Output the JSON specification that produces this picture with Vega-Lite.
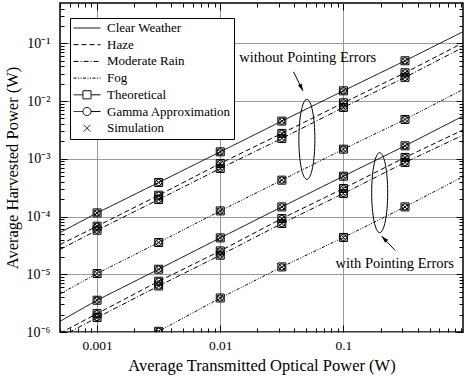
{
  "$schema": "https://vega.github.io/schema/vega-lite/v6.json",
  "width": 403,
  "height": 329,
  "autosize": "none",
  "padding": {"left": 60, "top": 3, "right": 1, "bottom": 55},
  "background": "white",
  "config": {
    "font": "Liberation Serif",
    "view": {"stroke": "black", "strokeWidth": 1.5},
    "axis": {
      "labelFont": "Liberation Serif", "labelFontSize": 13.5, "labelColor": "black",
      "titleFont": "Liberation Serif", "titleFontSize": 16.5, "titleFontWeight": "normal", "titleColor": "black",
      "tickColor": "black", "tickWidth": 1, "domain": false, "gridColor": "#9a9a9a", "gridWidth": 1, "gridOpacity": 1
    }
  },
  "datasets": {
    "curves": [
      {"p": 0.0005, "v": 5.28e-5, "w": "Clear Weather", "pe": "without"},
      {"p": 0.001, "v": 1.156e-4, "w": "Clear Weather", "pe": "without"},
      {"p": 0.003162, "v": 3.89e-4, "w": "Clear Weather", "pe": "without"},
      {"p": 0.01, "v": 1.321e-3, "w": "Clear Weather", "pe": "without"},
      {"p": 0.03162, "v": 4.50e-3, "w": "Clear Weather", "pe": "without"},
      {"p": 0.1, "v": 1.507e-2, "w": "Clear Weather", "pe": "without"},
      {"p": 0.3162, "v": 4.99e-2, "w": "Clear Weather", "pe": "without"},
      {"p": 0.935, "v": 0.159, "w": "Clear Weather", "pe": "without"},
      {"p": 0.0005, "v": 3.27e-5, "w": "Haze", "pe": "without"},
      {"p": 0.001, "v": 6.81e-5, "w": "Haze", "pe": "without"},
      {"p": 0.003162, "v": 2.34e-4, "w": "Haze", "pe": "without"},
      {"p": 0.01, "v": 8.32e-4, "w": "Haze", "pe": "without"},
      {"p": 0.03162, "v": 2.754e-3, "w": "Haze", "pe": "without"},
      {"p": 0.1, "v": 9.33e-3, "w": "Haze", "pe": "without"},
      {"p": 0.3162, "v": 3.09e-2, "w": "Haze", "pe": "without"},
      {"p": 0.935, "v": 0.102, "w": "Haze", "pe": "without"},
      {"p": 0.0005, "v": 2.69e-5, "w": "Moderate Rain", "pe": "without"},
      {"p": 0.001, "v": 5.79e-5, "w": "Moderate Rain", "pe": "without"},
      {"p": 0.003162, "v": 1.972e-4, "w": "Moderate Rain", "pe": "without"},
      {"p": 0.01, "v": 6.81e-4, "w": "Moderate Rain", "pe": "without"},
      {"p": 0.03162, "v": 2.254e-3, "w": "Moderate Rain", "pe": "without"},
      {"p": 0.1, "v": 7.76e-3, "w": "Moderate Rain", "pe": "without"},
      {"p": 0.3162, "v": 2.576e-2, "w": "Moderate Rain", "pe": "without"},
      {"p": 0.935, "v": 0.0851, "w": "Moderate Rain", "pe": "without"},
      {"p": 0.0005, "v": 4.57e-6, "w": "Fog", "pe": "without"},
      {"p": 0.001, "v": 1.03e-5, "w": "Fog", "pe": "without"},
      {"p": 0.003162, "v": 3.55e-5, "w": "Fog", "pe": "without"},
      {"p": 0.01, "v": 1.253e-4, "w": "Fog", "pe": "without"},
      {"p": 0.03162, "v": 4.27e-4, "w": "Fog", "pe": "without"},
      {"p": 0.1, "v": 1.469e-3, "w": "Fog", "pe": "without"},
      {"p": 0.3162, "v": 4.81e-3, "w": "Fog", "pe": "without"},
      {"p": 0.935, "v": 1.585e-2, "w": "Fog", "pe": "without"},
      {"p": 0.0005, "v": 1.535e-6, "w": "Clear Weather", "pe": "with"},
      {"p": 0.001, "v": 3.55e-6, "w": "Clear Weather", "pe": "with"},
      {"p": 0.003162, "v": 1.222e-5, "w": "Clear Weather", "pe": "with"},
      {"p": 0.01, "v": 4.27e-5, "w": "Clear Weather", "pe": "with"},
      {"p": 0.03162, "v": 1.469e-4, "w": "Clear Weather", "pe": "with"},
      {"p": 0.1, "v": 5.00e-4, "w": "Clear Weather", "pe": "with"},
      {"p": 0.3162, "v": 1.679e-3, "w": "Clear Weather", "pe": "with"},
      {"p": 0.935, "v": 5.50e-3, "w": "Clear Weather", "pe": "with"},
      {"p": 0.0005, "v": 9.55e-7, "w": "Haze", "pe": "with"},
      {"p": 0.001, "v": 2.08e-6, "w": "Haze", "pe": "with"},
      {"p": 0.003162, "v": 7.57e-6, "w": "Haze", "pe": "with"},
      {"p": 0.01, "v": 2.535e-5, "w": "Haze", "pe": "with"},
      {"p": 0.03162, "v": 9.25e-5, "w": "Haze", "pe": "with"},
      {"p": 0.1, "v": 3.06e-4, "w": "Haze", "pe": "with"},
      {"p": 0.3162, "v": 1.057e-3, "w": "Haze", "pe": "with"},
      {"p": 0.935, "v": 3.16e-3, "w": "Haze", "pe": "with"},
      {"p": 0.0005, "v": 8.13e-7, "w": "Moderate Rain", "pe": "with"},
      {"p": 0.001, "v": 1.778e-6, "w": "Moderate Rain", "pe": "with"},
      {"p": 0.003162, "v": 6.27e-6, "w": "Moderate Rain", "pe": "with"},
      {"p": 0.01, "v": 2.138e-5, "w": "Moderate Rain", "pe": "with"},
      {"p": 0.03162, "v": 7.57e-5, "w": "Moderate Rain", "pe": "with"},
      {"p": 0.1, "v": 2.512e-4, "w": "Moderate Rain", "pe": "with"},
      {"p": 0.3162, "v": 8.65e-4, "w": "Moderate Rain", "pe": "with"},
      {"p": 0.935, "v": 2.57e-3, "w": "Moderate Rain", "pe": "with"},
      {"p": 0.0005, "v": 1.35e-7, "w": "Fog", "pe": "with"},
      {"p": 0.001, "v": 2.88e-7, "w": "Fog", "pe": "with"},
      {"p": 0.003162, "v": 1.028e-6, "w": "Fog", "pe": "with"},
      {"p": 0.01, "v": 3.88e-6, "w": "Fog", "pe": "with"},
      {"p": 0.03162, "v": 1.34e-5, "w": "Fog", "pe": "with"},
      {"p": 0.1, "v": 4.34e-5, "w": "Fog", "pe": "with"},
      {"p": 0.3162, "v": 1.469e-4, "w": "Fog", "pe": "with"},
      {"p": 0.935, "v": 4.9e-4, "w": "Fog", "pe": "with"}
    ],
    "labels": [
      {"p": 0.0513, "v": 0.0556, "t": "without Pointing Errors"},
      {"p": 0.261, "v": 1.535e-5, "t": "with Pointing Errors"}
    ],
    "ellipses": [
      {"p": 0.0505, "v": 0.00217},
      {"p": 0.197, "v": 2.59e-4}
    ],
    "arrows": [
      {"p": 0.0393, "v": 0.0322, "a": "upper"},
      {"p": 0.0469, "v": 0.01507, "a": "upper"},
      {"p": 0.2625, "v": 2.6e-5, "a": "lower"},
      {"p": 0.2047, "v": 4.56e-5, "a": "lower"}
    ]
  },
  "resolve": {"axis": {"x": "independent", "y": "independent"}},
  "layer": [
    {
      "data": {"name": "curves"},
      "mark": {"type": "line", "clip": true, "color": "black", "strokeWidth": 1},
      "encoding": {
        "x": {"field": "p", "type": "quantitative", "scale": {"type": "log", "domain": [0.0005, 0.935], "nice": false},
          "axis": {"orient": "bottom", "values": [0.001, 0.01, 0.1], "format": "~g", "title": "Average Transmitted Optical Power (W)", "grid": true, "tickSize": -7, "labelPadding": 13, "titlePadding": 6}},
        "y": {"field": "v", "type": "quantitative", "scale": {"type": "log", "domain": [1e-6, 0.5], "nice": false},
          "axis": {"orient": "left", "values": [1e-6, 1e-5, 1e-4, 1e-3, 1e-2, 1e-1], "labelFontSize": 14,
            "labelExpr": "'10' + ['⁻¹','⁻²','⁻³','⁻⁴','⁻⁵','⁻⁶'][round(-log(datum.value)/LN10)-1]",
            "title": "Average Harvested Power (W)", "grid": true, "tickSize": -7, "labelPadding": 17, "titlePadding": 6}},
        "strokeDash": {"field": "w", "type": "nominal",
          "scale": {"domain": ["Clear Weather", "Haze", "Moderate Rain", "Fog", "Theoretical", "Gamma Approximation", "Simulation"],
            "range": [[1, 0], [5, 3], [5, 2, 1, 2], [3, 1.5, 1, 1.5, 1, 1.5], [1, 0], [1, 0], [1, 0]]},
          "legend": {
            "title": null, "orient": "none", "legendX": 10, "legendY": 15,
            "symbolSize": 729, "symbolStrokeWidth": 1, "symbolStrokeColor": "black", "symbolFillColor": "white", "symbolOpacity": 1,
            "labelFont": "Liberation Serif", "labelFontSize": 13, "labelColor": "black", "labelOffset": 6, "labelLimit": 0,
            "clipHeight": 14, "rowPadding": 2.7, "padding": 3, "strokeColor": "black", "fillColor": "white"
          }},
        "detail": {"field": "pe", "type": "nominal"}
      }
    },
    {
      "data": {"name": "curves"},
      "transform": [{"filter": "datum.p < 0"}],
      "mark": {"type": "point", "filled": false, "color": "black", "strokeWidth": 1, "opacity": 1},
      "encoding": {
        "shape": {"field": "w", "type": "nominal",
          "scale": {"domain": ["Clear Weather", "Haze", "Moderate Rain", "Fog", "Theoretical", "Gamma Approximation", "Simulation"],
            "range": ["stroke", "stroke", "stroke", "stroke", "M-1,0H-0.3M0.3,0H1M-0.3,-0.3H0.3V0.3H-0.3Z", "M-1,0H-0.3M0.3,0H1M-0.3,0A0.3,0.3 0 1,1 0.3,0A0.3,0.3 0 1,1 -0.3,0Z", "M-0.25,-0.25L0.25,0.25M-0.25,0.25L0.25,-0.25"]},
          "legend": {
            "title": null, "orient": "none", "legendX": 10, "legendY": 15,
            "symbolSize": 729, "symbolStrokeWidth": 1, "symbolStrokeColor": "black", "symbolFillColor": "white", "symbolOpacity": 1,
            "labelFont": "Liberation Serif", "labelFontSize": 13, "labelColor": "black", "labelOffset": 6, "labelLimit": 0,
            "clipHeight": 14, "rowPadding": 2.7, "padding": 3, "strokeColor": "black", "fillColor": "white"
          }}
      }
    },
    {
      "data": {"name": "curves"},
      "transform": [{"filter": "datum.p > 0.0007 && datum.p < 0.5"}],
      "mark": {"type": "point", "clip": true, "filled": false, "color": "black", "strokeWidth": 1, "size": 64, "opacity": 1, "shape": "square"},
      "encoding": {
        "x": {"field": "p", "type": "quantitative",
          "axis": {"orient": "bottom", "values": [0.0005, 0.0006, 0.0007, 0.0008, 0.0009, 0.002, 0.003, 0.004, 0.005, 0.006, 0.007, 0.008, 0.009, 0.02, 0.03, 0.04, 0.05, 0.06, 0.07, 0.08, 0.09, 0.2, 0.3, 0.4, 0.5, 0.6, 0.7, 0.8, 0.9], "labels": false, "grid": false, "tickSize": -4, "title": null}},
        "y": {"field": "v", "type": "quantitative",
          "axis": {"orient": "left", "values": [2e-6, 3e-6, 4e-6, 5e-6, 6e-6, 7e-6, 8e-6, 9e-6, 2e-5, 3e-5, 4e-5, 5e-5, 6e-5, 7e-5, 8e-5, 9e-5, 2e-4, 3e-4, 4e-4, 5e-4, 6e-4, 7e-4, 8e-4, 9e-4, 2e-3, 3e-3, 4e-3, 5e-3, 6e-3, 7e-3, 8e-3, 9e-3, 2e-2, 3e-2, 4e-2, 5e-2, 6e-2, 7e-2, 8e-2, 9e-2, 0.2, 0.3, 0.4], "labels": false, "grid": false, "tickSize": -4, "title": null}}
      }
    },
    {
      "data": {"name": "curves"},
      "transform": [{"filter": "datum.p > 0.0007 && datum.p < 0.5"}],
      "mark": {"type": "point", "clip": true, "filled": false, "color": "black", "strokeWidth": 1, "size": 40, "opacity": 1, "shape": "circle"},
      "encoding": {
        "x": {"field": "p", "type": "quantitative",
          "axis": {"orient": "top", "values": [0.001, 0.01, 0.1], "labels": false, "grid": false, "tickSize": -7, "title": null}},
        "y": {"field": "v", "type": "quantitative",
          "axis": {"orient": "right", "values": [1e-6, 1e-5, 1e-4, 1e-3, 1e-2, 1e-1], "labels": false, "grid": false, "tickSize": -7, "title": null}}
      }
    },
    {
      "data": {"name": "curves"},
      "transform": [{"filter": "datum.p > 0.0007 && datum.p < 0.5"}],
      "mark": {"type": "point", "clip": true, "filled": false, "color": "black", "strokeWidth": 1, "size": 36, "opacity": 1, "shape": "M-1,-1L1,1M-1,1L1,-1"},
      "encoding": {
        "x": {"field": "p", "type": "quantitative",
          "axis": {"orient": "top", "values": [0.0005, 0.0006, 0.0007, 0.0008, 0.0009, 0.002, 0.003, 0.004, 0.005, 0.006, 0.007, 0.008, 0.009, 0.02, 0.03, 0.04, 0.05, 0.06, 0.07, 0.08, 0.09, 0.2, 0.3, 0.4, 0.5, 0.6, 0.7, 0.8, 0.9], "labels": false, "grid": false, "tickSize": -4, "title": null}},
        "y": {"field": "v", "type": "quantitative",
          "axis": {"orient": "right", "values": [2e-6, 3e-6, 4e-6, 5e-6, 6e-6, 7e-6, 8e-6, 9e-6, 2e-5, 3e-5, 4e-5, 5e-5, 6e-5, 7e-5, 8e-5, 9e-5, 2e-4, 3e-4, 4e-4, 5e-4, 6e-4, 7e-4, 8e-4, 9e-4, 2e-3, 3e-3, 4e-3, 5e-3, 6e-3, 7e-3, 8e-3, 9e-3, 2e-2, 3e-2, 4e-2, 5e-2, 6e-2, 7e-2, 8e-2, 9e-2, 0.2, 0.3, 0.4], "labels": false, "grid": false, "tickSize": -4, "title": null}}
      }
    },
    {
      "data": {"name": "labels"},
      "mark": {"type": "text", "font": "Liberation Serif", "fontSize": 14.5, "color": "black", "align": "center", "baseline": "middle"},
      "encoding": {
        "x": {"field": "p", "type": "quantitative", "axis": null},
        "y": {"field": "v", "type": "quantitative", "axis": null},
        "text": {"field": "t"}
      }
    },
    {
      "data": {"name": "ellipses"},
      "mark": {"type": "point", "filled": false, "color": "black", "strokeWidth": 1, "opacity": 1, "size": 6400, "shape": "M0,-1A0.2,1 0 1,1 0,1A0.2,1 0 1,1 0,-1Z"},
      "encoding": {
        "x": {"field": "p", "type": "quantitative", "axis": null},
        "y": {"field": "v", "type": "quantitative", "axis": null}
      }
    },
    {
      "data": {"name": "arrows"},
      "mark": {"type": "line", "color": "black", "strokeWidth": 1},
      "encoding": {
        "x": {"field": "p", "type": "quantitative", "axis": null},
        "y": {"field": "v", "type": "quantitative", "axis": null},
        "detail": {"field": "a", "type": "nominal"}
      }
    },
    {
      "data": {"name": "arrows"},
      "transform": [{"filter": "datum.a === 'upper' && datum.p > 0.045"}],
      "mark": {"type": "point", "filled": true, "color": "black", "opacity": 1, "size": 196, "angle": 154, "shape": "M0,0L-0.3,1L0.3,1Z"},
      "encoding": {
        "x": {"field": "p", "type": "quantitative", "axis": null},
        "y": {"field": "v", "type": "quantitative", "axis": null}
      }
    },
    {
      "data": {"name": "arrows"},
      "transform": [{"filter": "datum.a === 'lower' && datum.p < 0.25"}],
      "mark": {"type": "point", "filled": true, "color": "black", "opacity": 1, "size": 196, "angle": -43.5, "shape": "M0,0L-0.3,1L0.3,1Z"},
      "encoding": {
        "x": {"field": "p", "type": "quantitative", "axis": null},
        "y": {"field": "v", "type": "quantitative", "axis": null}
      }
    }
  ]
}
